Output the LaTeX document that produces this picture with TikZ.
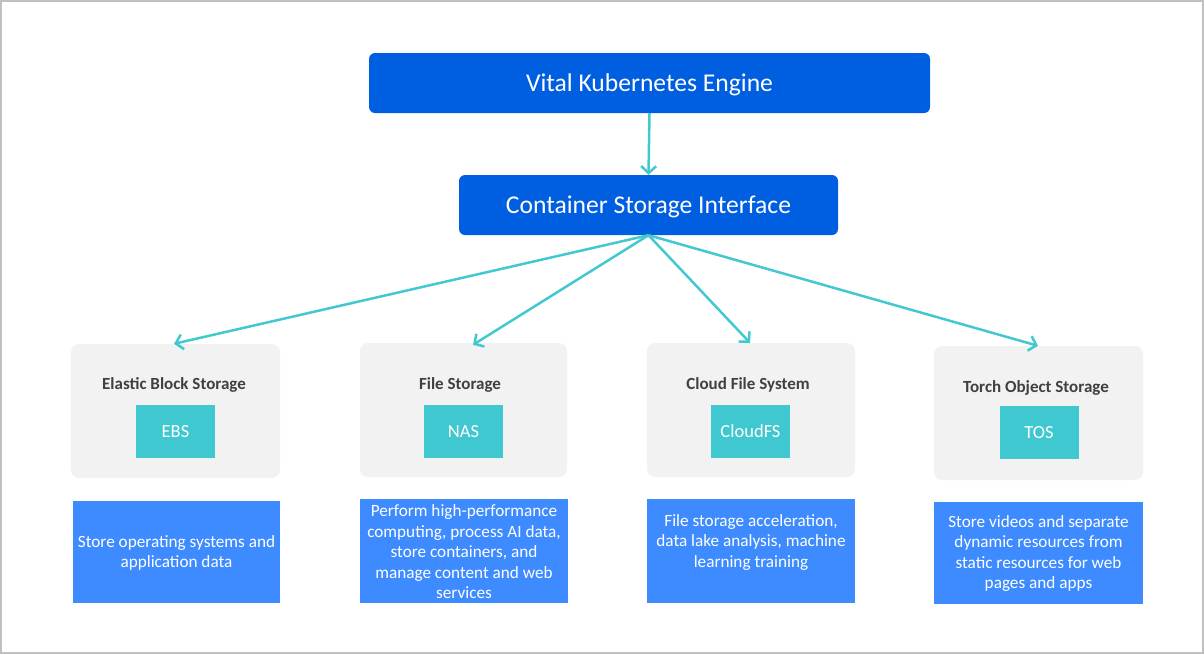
\documentclass[tikz,border=0pt]{standalone}
\usepackage{fontspec}
\setmainfont{Carlito}
\usetikzlibrary{arrows.meta}
\definecolor{vkeblue}{RGB}{0,94,224}
\definecolor{arrowteal}{RGB}{66,200,208}
\definecolor{cardgray}{RGB}{242,242,242}
\definecolor{tealbox}{RGB}{64,200,208}
\definecolor{descblue}{RGB}{62,139,255}
\definecolor{titlegray}{RGB}{64,64,64}
\definecolor{framegray}{RGB}{192,192,192}
\tikzset{
  topbox/.style={fill=vkeblue, rounded corners=6pt, text=white, font=\fontsize{25.6}{30}\selectfont, inner sep=0pt},
  card/.style={fill=cardgray, rounded corners=8pt, inner sep=0pt},
  cardtitle/.style={text=titlegray, font=\fontsize{17}{20}\selectfont\bfseries, inner sep=0pt},
  abbr/.style={fill=tealbox, text=white, font=\fontsize{18.5}{22}\selectfont, inner sep=0pt, minimum width=79pt, minimum height=53pt},
  descbox/.style={fill=descblue, inner sep=0pt},
  desctext/.style={text=white, font=\fontsize{17.2}{20.5}\selectfont, align=center, inner sep=0pt},
  link/.style={draw=arrowteal, line width=2.5pt, -{Straight Barb[length=7pt,width=15pt,line width=2.5pt]}}
}
\begin{document}
\begin{tikzpicture}[x=1pt,y=-1pt]
\useasboundingbox (0,0) rectangle (1204,654);
\draw[framegray, line width=2pt] (1,1) rectangle (1203,653);

\node[topbox, minimum width=561pt, minimum height=60pt] (vke) at (649.5,83) {};
\node[text=white, font=\fontsize{25.6}{30}\selectfont, inner sep=0pt] (vketext) at (649.5,85) {Vital Kubernetes Engine};
\node[topbox, minimum width=379pt, minimum height=60pt] (csi) at (648.5,205) {};
\node[text=white, font=\fontsize{25.6}{30}\selectfont, inner sep=0pt] (csitext) at (648.5,207) {Container Storage Interface};

% cards
\node[card, minimum width=209pt, minimum height=134pt] (ebscard) at (175.5,411) {};
\node[card, minimum width=207pt, minimum height=134pt] (nascard) at (463.5,410) {};
\node[card, minimum width=208pt, minimum height=134pt] (cfscard) at (751,410) {};
\node[card, minimum width=209pt, minimum height=134pt] (toscard) at (1038.5,413) {};

\node[cardtitle] (ebstitle) at (174,384.5) {Elastic Block Storage};
\node[cardtitle] (nastitle) at (460,384.5) {File Storage};
\node[cardtitle] (cfstitle) at (748,384.5) {Cloud File System};
\node[cardtitle] (tostitle) at (1036,387.5) {Torch Object Storage};

\node[abbr] (ebs) at (175.5,431.5) {EBS};
\node[abbr] (nas) at (463.5,431.5) {NAS};
\node[abbr] (cfs) at (750.5,431.5) {CloudFS};
\node[abbr] (tos) at (1039,432.5) {TOS};

% descriptions
\node[descbox, minimum width=207pt, minimum height=102pt] (ebsdesc) at (176.5,552) {};
\node[descbox, minimum width=208pt, minimum height=104pt] (nasdesc) at (464,551) {};
\node[descbox, minimum width=208pt, minimum height=104pt] (cfsdesc) at (751,551) {};
\node[descbox, minimum width=209pt, minimum height=102pt] (tosdesc) at (1038.5,553) {};

\node[desctext] (ebstext) at (176.5,553) {Store operating systems and\\application data};
\node[desctext] (nastext) at (464,552) {Perform high-performance\\computing, process AI data,\\store containers, and\\manage content and web\\services};
\node[desctext] (cfstext) at (751,542) {File storage acceleration,\\data lake analysis, machine\\learning training};
\node[desctext] (tostext) at (1038.5,553.5) {Store videos and separate\\dynamic resources from\\static resources for web\\pages and apps};

% connectors
\draw[link] (vke.south) -- (csi.north);
\draw[link] (csi.south) -- ([xshift=-1.5pt]ebscard.north);
\draw[link] (csi.south) -- ([xshift=9.5pt,yshift=-2pt]nascard.north);
\draw[link] (csi.south) -- ([xshift=-1pt]cfscard.north);
\draw[link] (csi.south) -- ([xshift=-0.5pt]toscard.north);
\end{tikzpicture}
\end{document}
